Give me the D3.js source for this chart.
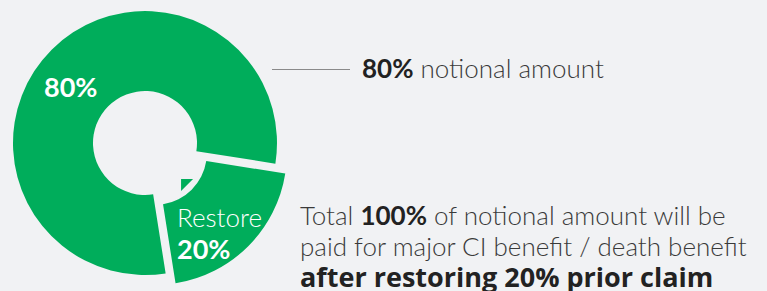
<!DOCTYPE html>
<html>
<head>
<meta charset="utf-8">
<script src="https://cdn.jsdelivr.net/npm/d3@7"></script>
<style>
  html, body { margin: 0; padding: 0; background: #f1f2f4; }
  svg { display: block; font-family: Lato, "Open Sans", sans-serif; }
</style>
</head>
<body>
<svg id="chart"></svg>
<script>
const width = 767;
const height = 291;

// slices
const labels = ["80%", "20%"];
const values = [80, 20];
const sliceNames = ["main", "Restore"];

// annotation texts
const topNote = [["80%", true], [" notional amount", false]];
const bottomNote = [
    [["Total ", false], ["100%", true], [" of notional amount will be", false]],
    [["paid for major CI benefit / death benefit", false]],
    [["after restoring 20% prior claim", true]]
];

const green = "#00ad5b";
const cx = 145, cy = 143;
const outerR = 132, innerR = 52;
const explode = 14;

const svg = d3.select("#chart")
    .attr("width", width)
    .attr("height", height)
    .attr("viewBox", `0 0 ${width} ${height}`);

const deg = Math.PI / 180;
const pie = d3.pie().sort(null).value(d => d)
    .startAngle(-189 * deg)
    .endAngle(171 * deg);

const arcs = pie(values);

const arc = d3.arc().innerRadius(innerR).outerRadius(outerR);

// point at angle a (d3 convention) and radius r
const polar = (a, r) => [Math.sin(a) * r, -Math.cos(a) * r];

const g = svg.append("g").attr("transform", `translate(${cx},${cy})`);

g.selectAll(".slice")
    .data(arcs)
    .enter().append("path")
    .attr("class", "slice")
    .attr("d", arc)
    .attr("fill", green)
    .attr("transform", (d, i) => {
        if (i === 0) return null;
        const mid = (d.startAngle + d.endAngle) / 2;
        const [dx, dy] = polar(mid, explode);
        return `translate(${dx},${dy})`;
    });

// little arrow head pointing back to the centre
const restore = arcs[1];
const midA = (restore.startAngle + restore.endAngle) / 2;
const tip = polar(midA, 51);
const base = polar(midA, 59.5);
const perp = polar(midA + Math.PI / 2, 8.5);
g.append("path")
    .attr("d", d3.line()([
        tip,
        [base[0] + perp[0], base[1] + perp[1]],
        [base[0] - perp[0], base[1] - perp[1]]
    ]))
    .attr("fill", green);

// slice labels
g.append("text")
    .attr("x", 44 - cx)
    .attr("y", 97 - cy)
    .attr("fill", "#fff")
    .attr("font-size", 27)
    .attr("font-weight", 700)
    .text(labels[0]);

const rl = g.append("text")
    .attr("x", 177 - cx)
    .attr("fill", "#fff")
    .attr("font-size", 26);
rl.append("tspan").attr("x", 177 - cx).attr("y", 227 - cy)
    .attr("font-weight", 300).text(sliceNames[1]);
rl.append("tspan").attr("x", 177 - cx).attr("y", 259 - cy)
    .attr("font-size", 27)
    .attr("font-weight", 700).text(labels[1]);

// leader line
svg.append("line")
    .attr("x1", 272).attr("x2", 350)
    .attr("y1", 69.5).attr("y2", 69.5)
    .attr("stroke", "#8a8a8a")
    .attr("stroke-width", 1);

const t1 = svg.append("text")
    .attr("x", 362).attr("y", 78)
    .attr("fill", "#333")
    .attr("font-size", 26);
topNote.forEach(([s, b]) => {
    t1.append("tspan")
        .attr("font-weight", b ? 700 : 300)
        .attr("fill", b ? "#222" : "#3a3a3a")
        .text(s);
});

const t2 = svg.append("text")
    .attr("fill", "#333")
    .attr("font-size", 26);
bottomNote.forEach((line, i) => {
    line.forEach(([s, b], j) => {
        const ts = t2.append("tspan")
            .attr("font-weight", b ? 700 : 300)
            .attr("fill", b ? "#222" : "#3a3a3a")
            .text(s);
        // the last line uses a wider bold face, as in the original
        if (i === 2) ts.attr("font-family", "'Open Sans', sans-serif").attr("font-size", 27);
        if (j === 0) ts.attr("x", 300).attr("y", 225 + i * 31);
    });
});
</script>
</body>
</html>
